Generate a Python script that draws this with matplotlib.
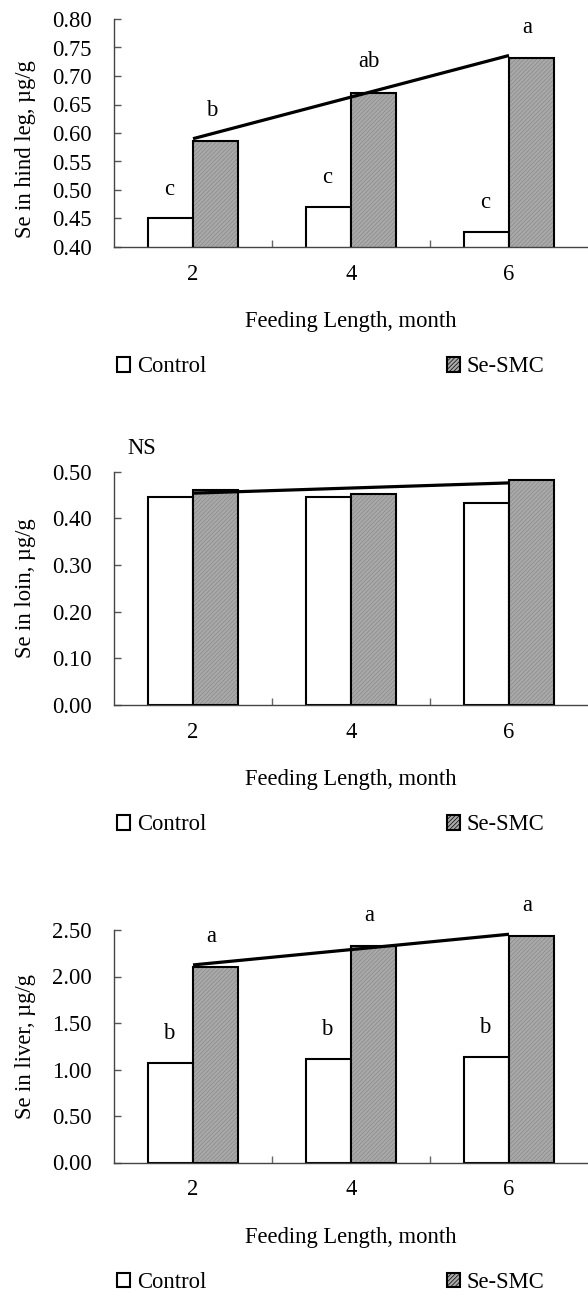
#!/usr/bin/env python3
"""Se content in hind leg, loin and liver by feeding length."""

import numpy as np
import matplotlib
matplotlib.use('Agg')
import matplotlib.pyplot as plt
from matplotlib.patches import Patch

plt.rcParams['font.family'] = ['Liberation Serif', 'DejaVu Serif']
plt.rcParams['hatch.linewidth'] = 0.5

# Data
months = ['2', '4', '6']

leg_control = [0.450, 0.471, 0.427]
leg_sesmc = [0.586, 0.671, 0.732]
leg_letters_control = ['c', 'c', 'c']
leg_letters_sesmc = ['b', 'ab', 'a']

loin_control = [0.445, 0.445, 0.433]
loin_sesmc = [0.460, 0.453, 0.482]

liver_control = [1.070, 1.113, 1.135]
liver_sesmc = [2.105, 2.328, 2.435]
liver_letters_control = ['b', 'b', 'b']
liver_letters_sesmc = ['a', 'a', 'a']

FS = 16.3
W, H = 588, 1296
GRAY = '#a9a9a9'
HATCH_COL = '#8a8a8a'
HATCH = '////////'
BAR_W = 0.285


def make_panel(fig, top_px, bot_px, control, sesmc, ylabel, yticks,
               letters_c=None, letters_s=None, label_y=0.5, note=None):
    left_px, right_px = 114, 588
    ax = fig.add_axes([left_px / W, 1 - bot_px / H,
                       (right_px - left_px) / W, (bot_px - top_px) / H])
    x = np.arange(len(months))

    ax.bar(x - BAR_W / 2, control, BAR_W, color='white', edgecolor='black',
           linewidth=1.5, zorder=2)
    ax.bar(x + BAR_W / 2, sesmc, BAR_W, color=GRAY, edgecolor=HATCH_COL,
           hatch=HATCH, linewidth=0, zorder=2)
    ax.bar(x + BAR_W / 2, sesmc, BAR_W, color='none', edgecolor='black',
           linewidth=1.5, zorder=3)

    # linear trend of Se-SMC
    slope, icpt = np.polyfit(x, sesmc, 1)
    tx = np.array([x[0], x[-1]])
    ax.plot(tx, slope * tx + icpt, color='black', linewidth=2.3,
            solid_capstyle='butt', zorder=4)

    if letters_c:
        for xi, v, t in zip(x, control, letters_c):
            ax.annotate(t, (xi - BAR_W / 2, v), xytext=(-1, 21),
                        textcoords='offset points', ha='center', va='center',
                        fontsize=FS)
        for xi, v, t in zip(x, sesmc, letters_s):
            ax.annotate(t, (xi + BAR_W / 2, v), xytext=(-3, 22),
                        textcoords='offset points', ha='center', va='center',
                        fontsize=FS)
    if note:
        ax.text(0.059, 1.1, note, transform=ax.transAxes, ha='center',
                va='center', fontsize=FS)

    ax.set_xlim(-0.5, 2.5)
    ax.set_ylim(yticks[0], yticks[-1])
    ax.set_yticks(yticks)
    ax.set_yticklabels([f'{t:.2f}' for t in yticks])
    ax.set_xticks(x)
    ax.set_xticklabels(months)
    ax.set_xticks([0.5, 1.5], minor=True)
    ax.tick_params(axis='x', which='major', length=0, pad=12, labelsize=FS)
    ax.tick_params(axis='x', which='minor', direction='in', length=5,
                   width=1, color='#666666')
    ax.tick_params(axis='y', direction='in', length=5, width=1,
                   color='#555555', pad=16, labelsize=FS)

    for s in ['top', 'right']:
        ax.spines[s].set_visible(False)
    ax.spines['left'].set_color('#444444')
    ax.spines['bottom'].set_color('#444444')
    ax.spines['bottom'].set_linewidth(1.0)
    ax.spines['left'].set_linewidth(1.0)

    ax.set_ylabel(ylabel, fontsize=FS)
    ax.yaxis.set_label_coords(-0.165, label_y)
    ax.set_xlabel('Feeding Length, month', fontsize=FS)
    h_px = bot_px - top_px
    ax.xaxis.set_label_coords(0.5, -64 / h_px)

    handles = [Patch(facecolor='white', edgecolor='black', linewidth=1.5),
               Patch(facecolor=GRAY, edgecolor='black', linewidth=1.5,
                     hatch=HATCH)]
    ax.legend(handles, ['Control', 'Se-SMC'], ncol=2, frameon=False,
              loc='center left', bbox_to_anchor=(0.006, -120 / h_px),
              borderpad=0, borderaxespad=0, handlelength=0.6,
              handleheight=0.6, handletextpad=0.3, columnspacing=10.6,
              fontsize=FS)
    return ax


fig = plt.figure(figsize=(W / 100, H / 100), dpi=100)
fig.patch.set_facecolor('white')

make_panel(fig, 19, 247, leg_control, leg_sesmc, 'Se in hind leg, µg/g',
           np.arange(0.40, 0.801, 0.05), leg_letters_control,
           leg_letters_sesmc, label_y=0.43)
make_panel(fig, 471.7, 705, loin_control, loin_sesmc, 'Se in loin, µg/g',
           np.arange(0.0, 0.501, 0.10), note='NS')
make_panel(fig, 930, 1162.5, liver_control, liver_sesmc, 'Se in liver, µg/g',
           np.arange(0.0, 2.501, 0.50), liver_letters_control,
           liver_letters_sesmc)

fig.savefig('out.png', dpi=100, facecolor='white')
